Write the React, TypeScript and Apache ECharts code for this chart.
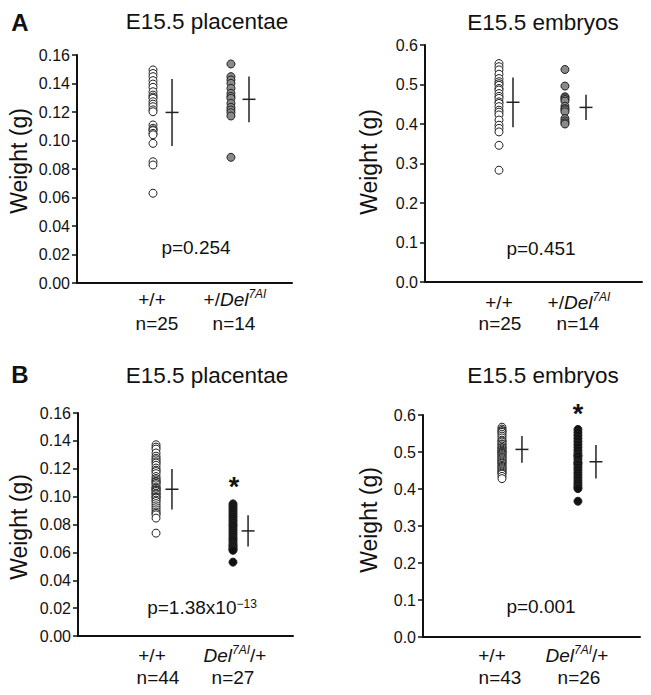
import React, { useEffect, useRef } from 'react';
import * as echarts from 'echarts';

// ---------- DATA ----------
// Panel A, placentae (g)
const aPlacentaWT = [0.1495, 0.147, 0.1448, 0.142, 0.1396, 0.1373, 0.1342, 0.1319, 0.1305, 0.1296, 0.1272, 0.1255, 0.1237, 0.1215, 0.1202, 0.1109, 0.1086, 0.1075, 0.1069, 0.105, 0.104, 0.098, 0.0851, 0.0828, 0.063];
const aPlacentaDel = [0.1537, 0.1448, 0.1425, 0.1401, 0.1366, 0.1331, 0.131, 0.1296, 0.1261, 0.1233, 0.1214, 0.1195, 0.1172, 0.0882];
const aPlacentaMean = [0.1197, 0.1289];
const aPlacentaSD = [0.0235, 0.0161];

// Panel A, embryos (g)
const aEmbryoWT = [0.553, 0.545, 0.537, 0.526, 0.515, 0.507, 0.502, 0.498, 0.49, 0.486, 0.477, 0.47, 0.465, 0.456, 0.452, 0.444, 0.435, 0.43, 0.423, 0.41, 0.397, 0.389, 0.38, 0.346, 0.283];
const aEmbryoDel = [0.538, 0.496, 0.469, 0.466, 0.462, 0.458, 0.445, 0.439, 0.436, 0.431, 0.414, 0.408, 0.403, 0.4];
const aEmbryoMean = [0.455, 0.442];
const aEmbryoSD = [0.063, 0.032];

// Panel B, placentae (g)
const bPlacentaWT = [0.1372, 0.1355, 0.1341, 0.1313, 0.129, 0.1275, 0.1264, 0.125, 0.1241, 0.1225, 0.1205, 0.119, 0.118, 0.1165, 0.1144, 0.113, 0.112, 0.111, 0.1105, 0.1095, 0.1085, 0.107, 0.1061, 0.106, 0.105, 0.1045, 0.1037, 0.1025, 0.102, 0.1013, 0.1, 0.0995, 0.0989, 0.0975, 0.0965, 0.095, 0.0934, 0.092, 0.0905, 0.089, 0.088, 0.0869, 0.0846, 0.0738];
const bPlacentaDel = [0.0948, 0.0935, 0.092, 0.0905, 0.089, 0.0875, 0.086, 0.0845, 0.083, 0.0815, 0.08, 0.079, 0.0775, 0.076, 0.0745, 0.073, 0.0715, 0.07, 0.069, 0.0675, 0.066, 0.065, 0.064, 0.063, 0.062, 0.0615, 0.053];
const bPlacentaMean = [0.1053, 0.0754];
const bPlacentaSD = [0.0146, 0.0112];

// Panel B, embryos (g)
const bEmbryoWT = [0.567, 0.562, 0.558, 0.555, 0.553, 0.548, 0.543, 0.538, 0.532, 0.53, 0.527, 0.522, 0.52, 0.516, 0.512, 0.511, 0.508, 0.505, 0.502, 0.5, 0.498, 0.496, 0.493, 0.49, 0.487, 0.485, 0.482, 0.479, 0.476, 0.473, 0.47, 0.468, 0.464, 0.461, 0.458, 0.455, 0.452, 0.449, 0.446, 0.443, 0.44, 0.434, 0.428];
const bEmbryoDel = [0.561, 0.553, 0.545, 0.537, 0.529, 0.521, 0.513, 0.505, 0.497, 0.49, 0.489, 0.481, 0.473, 0.47, 0.466, 0.459, 0.452, 0.445, 0.438, 0.431, 0.424, 0.417, 0.411, 0.405, 0.401, 0.367];
const bEmbryoMean = [0.507, 0.4736];
const bEmbryoSD = [0.036, 0.045];

const aCounts = [25, 14];
const bPlacentaCounts = [44, 27];
const bEmbryoCounts = [43, 26];

const pValueAPlacenta = 'p=0.254';
const pValueAEmbryo = 'p=0.451';
const pValueBPlacenta = 'p=1.38x10{s|\u221213}';
const pValueBEmbryo = 'p=0.001';

const titlePlacenta = 'E15.5 placentae';
const titleEmbryo = 'E15.5 embryos';
const yAxisTitle = 'Weight (g)';
const wtLabel = '+/+';
const aMutLabel = '+/{i|Del}{s|7AI}';
const bMutLabel = '{i|Del}{s|7AI}/+';

const placentaMax = 0.16;
const placentaInterval = 0.02;
const embryoMax = 0.6;
const embryoInterval = 0.1;

// ---------- LAYOUT / STYLE ----------
const FONT = '"Liberation Sans", Arial, Helvetica, sans-serif';
const INK = '#111';

const richStyles = {
  i: { fontStyle: 'italic', fontSize: 19, fontFamily: FONT, fill: INK, color: INK, lineHeight: 22 },
  s: { fontStyle: 'italic', fontSize: 12, fontFamily: FONT, fill: INK, color: INK, lineHeight: 12, verticalAlign: 'top' },
};

const panels = [
  {
    grid: { left: 77, top: 55, width: 215, height: 228 },
    yMax: placentaMax, yInterval: placentaInterval, dec: 2,
    cols: [0.3535, 0.716], sdCols: [0.442, 0.8],
    wt: aPlacentaWT, mut: aPlacentaDel, mean: aPlacentaMean, sd: aPlacentaSD,
    mutFill: '#8a8a8a',
    title: titlePlacenta, titleX: 207, titleY: 21,
    yLabelX: 19, yLabelY: 161,
    pText: pValueAPlacenta, pX: 196, pY: 247,
    mutLabel: aMutLabel, n: aCounts,
    gX: [152, 235], nX: [157, 234], gY: 299, nY: 323,
    star: null as null | number[],
  },
  {
    grid: { left: 425, top: 45, width: 217, height: 237 },
    yMax: embryoMax, yInterval: embryoInterval, dec: 1,
    cols: [0.341, 0.645], sdCols: [0.4055, 0.742],
    wt: aEmbryoWT, mut: aEmbryoDel, mean: aEmbryoMean, sd: aEmbryoSD,
    mutFill: '#8a8a8a',
    title: titleEmbryo, titleX: 543, titleY: 22,
    yLabelX: 369, yLabelY: 162,
    pText: pValueAEmbryo, pX: 541, pY: 248,
    mutLabel: aMutLabel, n: aCounts,
    gX: [499, 579], nX: [500, 578], gY: 302, nY: 323,
    star: null as null | number[],
  },
  {
    grid: { left: 78, top: 413, width: 215, height: 223 },
    yMax: placentaMax, yInterval: placentaInterval, dec: 2,
    cols: [0.363, 0.721], sdCols: [0.437, 0.791],
    wt: bPlacentaWT, mut: bPlacentaDel, mean: bPlacentaMean, sd: bPlacentaSD,
    mutFill: '#111',
    title: titlePlacenta, titleX: 207, titleY: 375,
    yLabelX: 19, yLabelY: 527,
    pText: pValueBPlacenta, pX: 202, pY: 607,
    mutLabel: bMutLabel, n: bPlacentaCounts,
    gX: [152, 235], nX: [158, 233], gY: 655, nY: 677,
    star: [234, 487],
  },
  {
    grid: { left: 423, top: 415, width: 217, height: 222 },
    yMax: embryoMax, yInterval: embryoInterval, dec: 1,
    cols: [0.364, 0.714], sdCols: [0.456, 0.797],
    wt: bEmbryoWT, mut: bEmbryoDel, mean: bEmbryoMean, sd: bEmbryoSD,
    mutFill: '#111',
    title: titleEmbryo, titleX: 543, titleY: 375,
    yLabelX: 369, yLabelY: 520,
    pText: pValueBEmbryo, pX: 541, pY: 606,
    mutLabel: bMutLabel, n: bEmbryoCounts,
    gX: [492, 577], nX: [500, 579], gY: 655, nY: 677,
    star: [578, 414],
  },
];

function buildOption() {
  const grid: any[] = [];
  const xAxis: any[] = [];
  const yAxis: any[] = [];
  const series: any[] = [];
  const graphic: any[] = [];

  const txt = (x: number, y: number, text: string, size: number, extra: any = {}) => ({
    type: 'text', x, y, silent: true,
    style: {
      text, fontSize: size, fontFamily: FONT, fill: INK,
      align: 'center', verticalAlign: 'middle', rich: richStyles, ...extra,
    },
  });

  panels.forEach((p, idx) => {
    grid.push({ ...p.grid, containLabel: false, outerBoundsMode: 'none' });
    xAxis.push({
      type: 'value', gridIndex: idx, min: 0, max: 1,
      axisLine: { show: true, onZero: false, lineStyle: { color: INK, width: 2 } },
      axisTick: { show: false }, axisLabel: { show: false }, splitLine: { show: false },
    });
    yAxis.push({
      type: 'value', gridIndex: idx, min: 0, max: p.yMax, interval: p.yInterval,
      axisLine: { show: true, lineStyle: { color: INK, width: 2 } },
      axisTick: { show: true, length: 5, lineStyle: { color: INK, width: 1.5 } },
      axisLabel: {
        color: INK, fontSize: 16, fontFamily: FONT, margin: 7,
        formatter: (v: number) => v.toFixed(p.dec),
      },
      splitLine: { show: false },
    });
    series.push({
      type: 'scatter', xAxisIndex: idx, yAxisIndex: idx,
      data: p.wt.map((v) => [p.cols[0], v]),
      symbol: 'circle', symbolSize: 8,
      itemStyle: { color: '#fff', borderColor: '#222', borderWidth: 1, opacity: 1 },
      silent: true,
    });
    series.push({
      type: 'scatter', xAxisIndex: idx, yAxisIndex: idx,
      data: p.mut.map((v) => [p.cols[1], v]),
      symbol: 'circle', symbolSize: 8,
      itemStyle: { color: p.mutFill, borderColor: '#222', borderWidth: 1, opacity: 1 },
      silent: true,
    });
    series.push({
      type: 'custom', xAxisIndex: idx, yAxisIndex: idx, silent: true,
      data: p.sdCols.map((x, i) => [x, p.mean[i], p.sd[i]]),
      renderItem: (_params: any, api: any) => {
        const x = api.value(0);
        const m = api.value(1);
        const s = api.value(2);
        const top = api.coord([x, m + s]);
        const bot = api.coord([x, m - s]);
        const mid = api.coord([x, m]);
        return {
          type: 'group',
          children: [
            { type: 'line', shape: { x1: top[0], y1: top[1], x2: bot[0], y2: bot[1] }, style: { stroke: '#222', lineWidth: 1.5 } },
            { type: 'line', shape: { x1: mid[0] - 6.5, y1: mid[1], x2: mid[0] + 6.5, y2: mid[1] }, style: { stroke: '#222', lineWidth: 1.5 } },
          ],
        };
      },
    });

    graphic.push(txt(p.titleX, p.titleY, p.title, 22.5));
    graphic.push({
      type: 'text', x: p.yLabelX, y: p.yLabelY, rotation: Math.PI / 2, silent: true,
      style: { text: yAxisTitle, fontSize: 23, fontFamily: FONT, fill: INK, align: 'center', verticalAlign: 'middle' },
    });
    graphic.push(txt(p.pX, p.pY, p.pText, 19, {
      rich: {
        s: { fontSize: 12, fontFamily: FONT, fill: INK, color: INK, lineHeight: 12, verticalAlign: 'top' },
      },
    }));
    graphic.push(txt(p.gX[0], p.gY, wtLabel, 19));
    graphic.push(txt(p.gX[1], p.gY, p.mutLabel, 19));
    graphic.push(txt(p.nX[0], p.nY, 'n=' + p.n[0], 19));
    graphic.push(txt(p.nX[1], p.nY, 'n=' + p.n[1], 19));
    if (p.star) {
      graphic.push(txt(p.star[0], p.star[1], '*', 27, { fontWeight: 'bold' }));
    }
  });

  graphic.push(txt(20, 22, 'A', 24, { fontWeight: 'bold' }));
  graphic.push(txt(20, 374, 'B', 24, { fontWeight: 'bold' }));

  return {
    animation: false,
    backgroundColor: '#fff',
    grid, xAxis, yAxis, series, graphic,
  };
}

export default function App() {
  const ref = useRef<HTMLDivElement>(null);
  useEffect(() => {
    if (!ref.current) return;
    const chart = echarts.init(ref.current, undefined, { renderer: 'svg' });
    chart.setOption(buildOption() as any);
    return () => chart.dispose();
  }, []);
  return (
    <div
      ref={ref}
      style={{ position: 'fixed', left: 0, top: 0, width: 651, height: 695, background: '#fff' }}
    />
  );
}
